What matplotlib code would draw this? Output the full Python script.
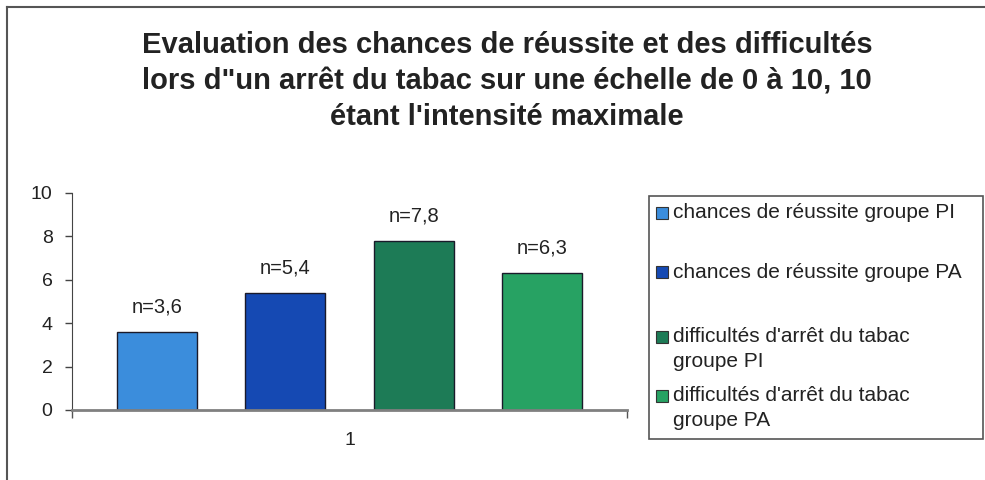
import matplotlib.pyplot as plt
from matplotlib.patches import Rectangle
from matplotlib.lines import Line2D

plt.rcParams['font.family'] = ['Liberation Sans', 'DejaVu Sans']

# donnees du graphique
series = ["chances de réussite groupe PI",
          "chances de réussite groupe PA",
          "difficultés d'arrêt du tabac\ngroupe PI",
          "difficultés d'arrêt du tabac\ngroupe PA"]
valeurs = [3.6, 5.4, 7.8, 6.3]
etiquettes = ["n=3,6", "n=5,4", "n=7,8", "n=6,3"]
categorie = ["1"]
yticks = [0, 2, 4, 6, 8, 10]
couleurs = ["#3b8ddc", "#1549b3", "#1d7b56", "#27a263"]

titre = ("Evaluation des chances de réussite et des difficultés\n"
         "lors d\"un arrêt du tabac sur une échelle de 0 à 10, 10\n"
         "étant l'intensité maximale")

fig = plt.figure(figsize=(9.85, 4.8), dpi=100)
W, H = 985, 480

# cadre exterieur
fig.add_artist(Line2D([7 / W, 1], [1 - 7 / H, 1 - 7 / H], color="#555555", lw=1.5))
fig.add_artist(Line2D([7 / W, 7 / W], [0, 1 - 7 / H], color="#555555", lw=1.5))

fig.text(507 / W, 1 - 81 / H, titre, ha="center", va="center", fontsize=21,
         fontweight="bold", color="#222222", linespacing=1.38)

ax = fig.add_axes([72 / W, 1 - 410 / H, 555 / W, 217 / H])
x = list(range(len(valeurs)))
barres = ax.bar(x, valeurs, width=0.62, color=couleurs, edgecolor="#1a1a2a", linewidth=1)
for xi, v, t in zip(x, valeurs, etiquettes):
    ax.annotate(t, (xi, v), xytext=(0, 25), textcoords="offset pixels",
                ha="center", va="center", fontsize=14.5, color="#222222")

ax.set_xlim(-0.66, 3.66)
ax.set_ylim(0, 10)
ax.set_yticks(yticks)
ax.tick_params(axis="y", direction="out", length=5, width=1, color="#444444",
               labelsize=14, labelcolor="#222222", pad=9)
ax.set_xticks([1.5])
ax.set_xticklabels(categorie)
ax.tick_params(axis="x", length=0, labelsize=14, labelcolor="#222222", pad=16)
ax.set_xticks([-0.66, 3.66], minor=True)
ax.tick_params(axis="x", which="minor", direction="out", length=6, width=1, color="#555555")
for s in ["top", "right"]:
    ax.spines[s].set_visible(False)
ax.spines["left"].set_color("#444444")
ax.spines["bottom"].set_color("#808080")
ax.spines["bottom"].set_linewidth(2)

# legende
fig.add_artist(Rectangle((649 / W, 1 - 439 / H), (W - 649) / W - 0.002, 243 / H,
                         fill=False, edgecolor="#555555", lw=1.2))
pos_leg = [213, 272, 349, 408]
for lab, c, yp in zip(series, couleurs, pos_leg):
    nlig = lab.count("\n") + 1
    ytop = yp - (nlig - 1) * 12.5
    fig.add_artist(Rectangle((656 / W, 1 - (ytop + 6) / H), 12 / W, 12 / H,
                             facecolor=c, edgecolor="#333333", lw=0.8))
    fig.text(673 / W, 1 - yp / H, lab, ha="left", va="center", fontsize=15,
             color="#222222", linespacing=1.4)

fig.savefig("out.png", dpi=100)
